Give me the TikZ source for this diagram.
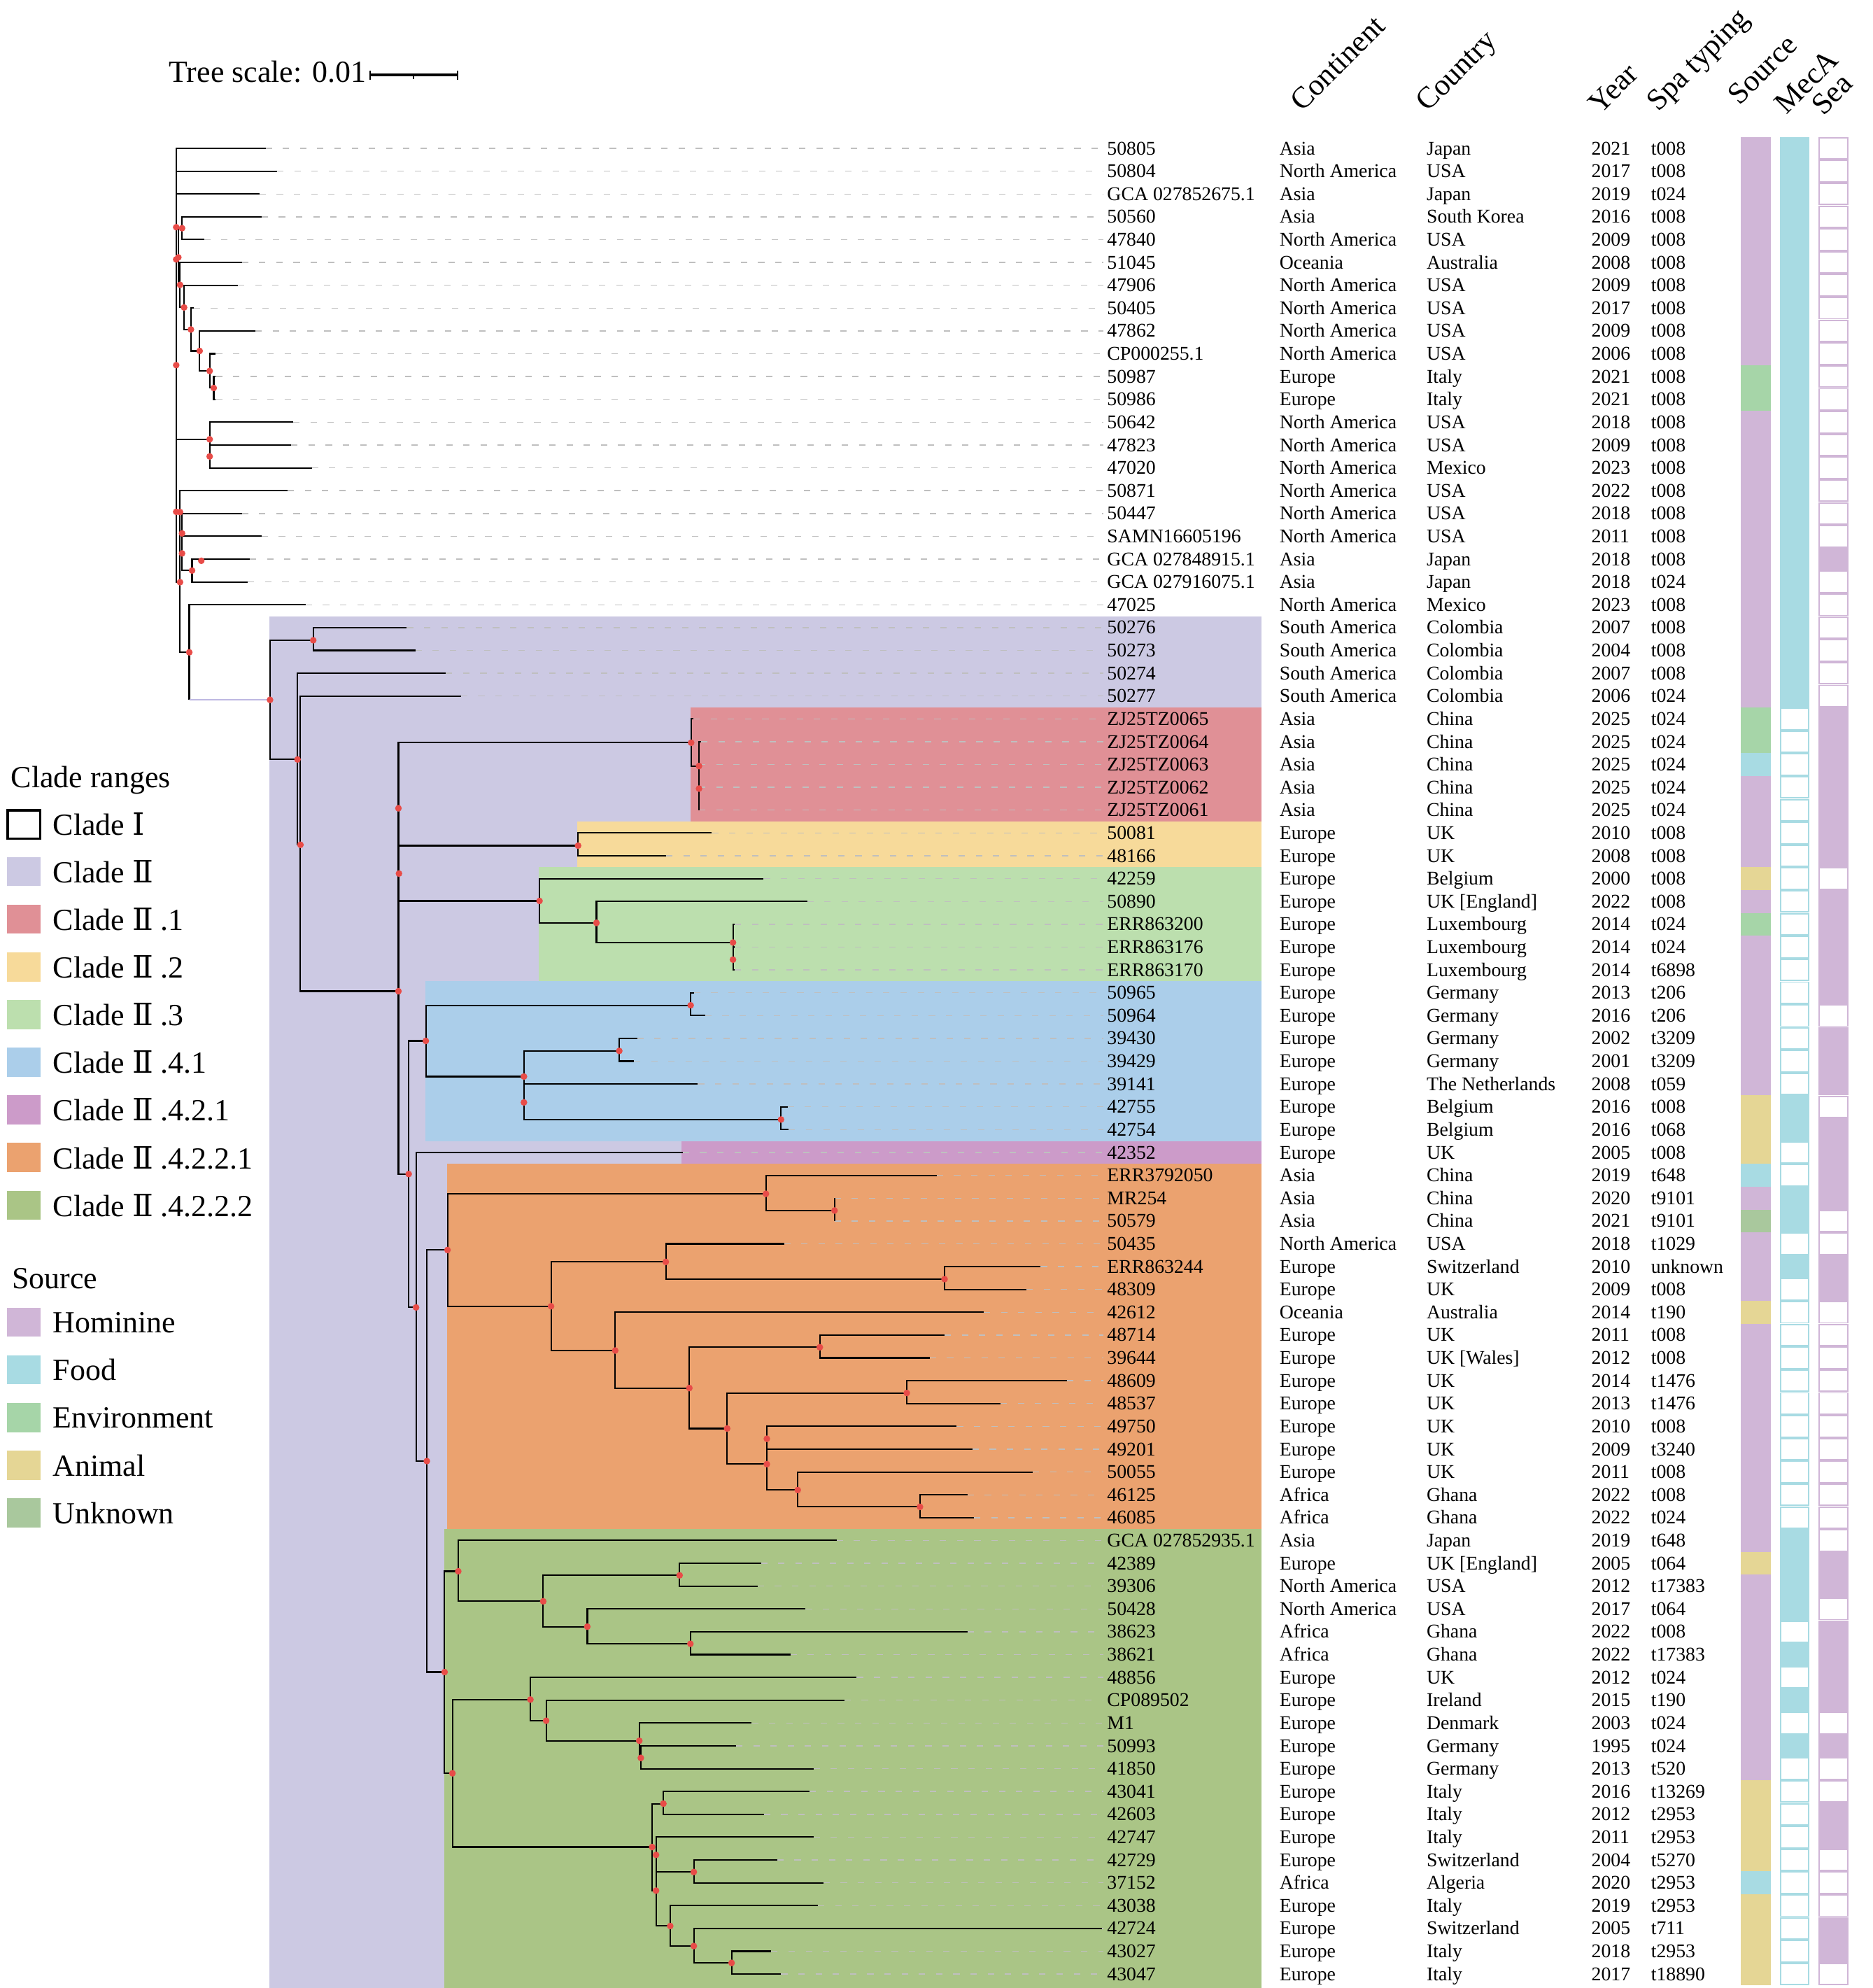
\documentclass[tikz,border=0pt]{standalone}
\usepackage{fontspec}
\setmainfont{Liberation Serif}
\newfontfamily\rnfont{DejaVu Serif}
\usetikzlibrary{calc}
\definecolor{cII}{RGB}{204,201,227}
\definecolor{cIIline}{RGB}{190,184,226}
\definecolor{cIIa}{RGB}{224,144,150}
\definecolor{cIIb}{RGB}{247,218,154}
\definecolor{cIIc}{RGB}{188,223,174}
\definecolor{cIIda}{RGB}{171,206,234}
\definecolor{cIIdba}{RGB}{204,155,201}
\definecolor{cIIdbba}{RGB}{235,162,111}
\definecolor{cIIdbbb}{RGB}{170,197,134}
\definecolor{cHom}{RGB}{208,182,215}
\definecolor{cFood}{RGB}{168,219,227}
\definecolor{cEnv}{RGB}{166,213,168}
\definecolor{cAni}{RGB}{229,214,149}
\definecolor{cUnk}{RGB}{169,200,157}
\definecolor{dotred}{RGB}{232,76,72}
\newcommand\RI{{\rnfont Ⅰ}}
\newcommand\RII{{\rnfont Ⅱ}}
\begin{document}
\begin{tikzpicture}[x=0.018125cm,y=-0.018125cm,
  br/.style={line width=0.6pt,draw=black},
  leader/.style={draw=black!25,line width=0.4pt,dash pattern=on 2.6pt off 4.4pt},
  lab/.style={anchor=base west,inner sep=0pt,font=\fontsize{7.9}{9.5}\selectfont},
  hdr/.style={anchor=base west,inner sep=0pt,rotate=45,font=\fontsize{12.3}{14}\selectfont},
  leg/.style={anchor=base west,inner sep=0pt,font=\fontsize{12.5}{15}\selectfont},
  dotc/.style={circle,fill=dotred,inner sep=0pt,minimum size=0.095cm}]
\useasboundingbox (0,0) rectangle (1477,1568);
% clade backgrounds
\fill[cII] (212.3,486) rectangle (995,1568);
\fill[cIIa] (544.8,558) rectangle (995,648);
\fill[cIIb] (455.1,648) rectangle (995,684);
\fill[cIIc] (425.2,684) rectangle (995,774);
\fill[cIIda] (335.4,774) rectangle (995,900);
\fill[cIIdba] (537.8,900) rectangle (995,918);
\fill[cIIdbba] (352.6,918) rectangle (995,1206);
\fill[cIIdbbb] (350.7,1206) rectangle (995,1568);
% leaves
\newcommand\leaf[7]{%
 \pgfmathsetmacro\ry{117+18*#1}%
 \coordinate (t#1) at (#2,\ry);
 \node[lab] (l#1) at (873,\ry+5) {#3};
 \node[lab] (c#1) at (1009,\ry+5) {#4};
 \node[lab] (k#1) at (1125,\ry+5) {#5};
 \node[lab] (y#1) at (1255,\ry+5) {#6};
 \node[lab] (s#1) at (1302,\ry+5) {#7};
 \draw[leader,shorten >=1.5pt] (t#1) -- (t#1 -| l#1.west);
}
\leaf{0}{209.5}{50805}{Asia}{Japan}{2021}{t008}
\leaf{1}{218.6}{50804}{North America}{USA}{2017}{t008}
\leaf{2}{204.7}{GCA 027852675.1}{Asia}{Japan}{2019}{t024}
\leaf{3}{206.3}{50560}{Asia}{South Korea}{2016}{t008}
\leaf{4}{161.0}{47840}{North America}{USA}{2009}{t008}
\leaf{5}{190.8}{51045}{Oceania}{Australia}{2008}{t008}
\leaf{6}{187.6}{47906}{North America}{USA}{2009}{t008}
\leaf{7}{152.8}{50405}{North America}{USA}{2017}{t008}
\leaf{8}{201.5}{47862}{North America}{USA}{2009}{t008}
\leaf{9}{170.2}{CP000255.1}{North America}{USA}{2006}{t008}
\leaf{10}{170.2}{50987}{Europe}{Italy}{2021}{t008}
\leaf{11}{170.2}{50986}{Europe}{Italy}{2021}{t008}
\leaf{12}{231.3}{50642}{North America}{USA}{2018}{t008}
\leaf{13}{229.7}{47823}{North America}{USA}{2009}{t008}
\leaf{14}{245.9}{47020}{North America}{Mexico}{2023}{t008}
\leaf{15}{226.9}{50871}{North America}{USA}{2022}{t008}
\leaf{16}{190.8}{50447}{North America}{USA}{2018}{t008}
\leaf{17}{206.3}{SAMN16605196}{North America}{USA}{2011}{t008}
\leaf{18}{197.1}{GCA 027848915.1}{Asia}{Japan}{2018}{t008}
\leaf{19}{195.5}{GCA 027916075.1}{Asia}{Japan}{2018}{t024}
\leaf{20}{241.1}{47025}{North America}{Mexico}{2023}{t008}
\leaf{21}{320.9}{50276}{South America}{Colombia}{2007}{t008}
\leaf{22}{327.6}{50273}{South America}{Colombia}{2004}{t008}
\leaf{23}{351.7}{50274}{South America}{Colombia}{2007}{t008}
\leaf{24}{363.6}{50277}{South America}{Colombia}{2006}{t024}
\leaf{25}{547}{ZJ25TZ0065}{Asia}{China}{2025}{t024}
\leaf{26}{553}{ZJ25TZ0064}{Asia}{China}{2025}{t024}
\leaf{27}{551.4}{ZJ25TZ0063}{Asia}{China}{2025}{t024}
\leaf{28}{551.4}{ZJ25TZ0062}{Asia}{China}{2025}{t024}
\leaf{29}{551.4}{ZJ25TZ0061}{Asia}{China}{2025}{t024}
\leaf{30}{561.5}{50081}{Europe}{UK}{2010}{t008}
\leaf{31}{525.4}{48166}{Europe}{UK}{2008}{t008}
\leaf{32}{602.4}{42259}{Europe}{Belgium}{2000}{t008}
\leaf{33}{636.7}{50890}{Europe}{UK [England]}{2022}{t008}
\leaf{34}{579.5}{ERR863200}{Europe}{Luxembourg}{2014}{t024}
\leaf{35}{579.5}{ERR863176}{Europe}{Luxembourg}{2014}{t024}
\leaf{36}{579.5}{ERR863170}{Europe}{Luxembourg}{2014}{t6898}
\leaf{37}{547.4}{50965}{Europe}{Germany}{2013}{t206}
\leaf{38}{556.2}{50964}{Europe}{Germany}{2016}{t206}
\leaf{39}{502.6}{39430}{Europe}{Germany}{2002}{t3209}
\leaf{40}{500}{39429}{Europe}{Germany}{2001}{t3209}
\leaf{41}{550.5}{39141}{Europe}{The Netherlands}{2008}{t059}
\leaf{42}{621.3}{42755}{Europe}{Belgium}{2016}{t008}
\leaf{43}{622.2}{42754}{Europe}{Belgium}{2016}{t068}
\leaf{44}{538.6}{42352}{Europe}{UK}{2005}{t008}
\leaf{45}{738.9}{ERR3792050}{Asia}{China}{2019}{t648}
\leaf{46}{658.3}{MR254}{Asia}{China}{2020}{t9101}
\leaf{47}{658.3}{50579}{Asia}{China}{2021}{t9101}
\leaf{48}{618.5}{50435}{North America}{USA}{2018}{t1029}
\leaf{49}{820.9}{ERR863244}{Europe}{Switzerland}{2010}{unknown}
\leaf{50}{809.7}{48309}{Europe}{UK}{2009}{t008}
\leaf{51}{776}{42612}{Oceania}{Australia}{2014}{t190}
\leaf{52}{745.1}{48714}{Europe}{UK}{2011}{t008}
\leaf{53}{733.4}{39644}{Europe}{UK [Wales]}{2012}{t008}
\leaf{54}{841.8}{48609}{Europe}{UK}{2014}{t1476}
\leaf{55}{789.2}{48537}{Europe}{UK}{2013}{t1476}
\leaf{56}{754.7}{49750}{Europe}{UK}{2010}{t008}
\leaf{57}{767.1}{49201}{Europe}{UK}{2009}{t3240}
\leaf{58}{814.7}{50055}{Europe}{UK}{2011}{t008}
\leaf{59}{763.2}{46125}{Africa}{Ghana}{2022}{t008}
\leaf{60}{768.3}{46085}{Africa}{Ghana}{2022}{t024}
\leaf{61}{659.9}{GCA 027852935.1}{Asia}{Japan}{2019}{t648}
\leaf{62}{600.3}{42389}{Europe}{UK [England]}{2005}{t064}
\leaf{63}{597.6}{39306}{North America}{USA}{2012}{t17383}
\leaf{64}{635.5}{50428}{North America}{USA}{2017}{t064}
\leaf{65}{763.2}{38623}{Africa}{Ghana}{2022}{t008}
\leaf{66}{623.5}{38621}{Africa}{Ghana}{2022}{t17383}
\leaf{67}{675.8}{48856}{Europe}{UK}{2012}{t024}
\leaf{68}{666.1}{CP089502}{Europe}{Ireland}{2015}{t190}
\leaf{69}{593}{M1}{Europe}{Denmark}{2003}{t024}
\leaf{70}{580.6}{50993}{Europe}{Germany}{1995}{t024}
\leaf{71}{641.7}{41850}{Europe}{Germany}{2013}{t520}
\leaf{72}{638.6}{43041}{Europe}{Italy}{2016}{t13269}
\leaf{73}{602.6}{42603}{Europe}{Italy}{2012}{t2953}
\leaf{74}{641.7}{42747}{Europe}{Italy}{2011}{t2953}
\leaf{75}{613.1}{42729}{Europe}{Switzerland}{2004}{t5270}
\leaf{76}{649.5}{37152}{Africa}{Algeria}{2020}{t2953}
\leaf{77}{645.2}{43038}{Europe}{Italy}{2019}{t2953}
\leaf{78}{869.3}{42724}{Europe}{Switzerland}{2005}{t711}
\leaf{79}{608.4}{43027}{Europe}{Italy}{2018}{t2953}
\leaf{80}{616.2}{43047}{Europe}{Italy}{2017}{t18890}
% internal nodes
\foreach \n/\x/\y in {R/139/288,xa/139/179.2,xb/139/204.6,xc/139/403.7,xd/158.8/442.3,
 nA/143.6/180,nE/140.7/203,nF/142/224.7,nG/145.2/242.5,nH/150.6/259.9,nI/157.5/276.8,
 nJ/165.4/292.6,nK/168.6/306,nM/165.4/346.5,nN/165.4/360,nU/142/459.2,nQ/142/403.9,
 nR/143.6/420.7,nS/143.6/436.5,nT/151.5/450,nV/149.3/514.5,C2/213/552,nW/247.1/505,
 nX/234.7/599,nY/237/666.3,nZ/314.3/781.8,n1/314.3/637.5,C21/545.2/585.8,nB1/551.4/604.2,
 nB2/551.4/622,n2/314.7/689,C22/456/667,C23/425.6/710.6,n3a/470.5/727.9,n3b/578.2/743.4,
 n3c/578.2/756.9,n4/322.4/926,C241/335.9/821,n41a/544.8/792.9,n41b/413.3/849.1,
 n41c/488.5/828.9,n41e/413.3/869.5,n41d/616.1/883,n5/328.2/1031.2,n6/336.7/1152.4,
 O/353/985.9,oA/604.2/941.6,oA2/658.3/954.8,oB/434.7/1030.3,oB1/525.2/995.3,
 oB1a/745.1/1008.9,oB2/485.3/1065.2,oB2b/543.8/1094.8,oC/646.7/1062.6,oD/573.6/1126.7,
 oE/715.3/1098.7,oF/604.9/1154.8,oG/604.9/1134.8,oH/629.3/1175.2,oI/725.7/1188.5,
 G/350.7/1318.8,g1/361.5/1239.3,g1b/428.5/1263,g1c/536.1/1242.5,g1d/463.3/1283,
 g1e/544.6/1296.5,g2/356.9/1398.6,g2a/418.4/1340.5,g2c/430.8/1357.2,g2d/504.3/1373,
 g2e/505.5/1386.5,g2b/514.4/1456.8,g2f/523.3/1422.6,g2g/517.5/1491.2,g2h/517.5/1463,
 g2j/547.3/1476.5,g2i/528.7/1519.1,g2k/547.3/1534.9,g2l/577.1/1548.2}
 {\coordinate (\n) at (\x,\y);}
% branches
\foreach \p/\c in {R/t0,R/t1,R/t2,R/nE,R/nM,R/nU,nE/nA,nE/nF,nA/t3,nA/t4,nF/t5,nF/nG,
 nG/t6,nG/nH,nH/t7,nH/nI,nI/t8,nI/nJ,nJ/t9,nJ/nK,nK/t10,nK/t11,nM/t12,nM/nN,nN/t13,nN/t14,
 nU/nQ,nU/nV,nQ/t15,nQ/nR,nR/t16,nR/nS,nS/t17,nS/nT,nT/t18,nT/t19,nV/t20,
 C2/nW,C2/nX,nW/t21,nW/t22,nX/t23,nX/nY,nY/t24,nY/nZ,nZ/n1,nZ/n4,n1/C21,n1/n2,
 C21/t25,C21/nB1,nB1/t26,nB1/nB2,nB2/t27,nB2/t28,nB2/t29,n2/C22,n2/C23,C22/t30,C22/t31,
 C23/t32,C23/n3a,n3a/t33,n3a/n3b,n3b/t34,n3b/n3c,n3c/t35,n3c/t36,n4/C241,n4/n5,
 C241/n41a,C241/n41b,n41a/t37,n41a/t38,n41b/n41c,n41b/n41e,n41c/t39,n41c/t40,
 n41e/t41,n41e/n41d,n41d/t42,n41d/t43,n5/t44,n5/n6,n6/O,n6/G,O/oA,O/oB,oA/t45,oA/oA2,
 oA2/t46,oA2/t47,oB/oB1,oB/oB2,oB1/t48,oB1/oB1a,oB1a/t49,oB1a/t50,oB2/t51,oB2/oB2b,
 oB2b/oC,oB2b/oD,oC/t52,oC/t53,oD/oE,oD/oF,oE/t54,oE/t55,oF/oG,oF/oH,oG/t56,oG/t57,
 oH/t58,oH/oI,oI/t59,oI/t60,G/g1,G/g2,g1/t61,g1/g1b,g1b/g1c,g1b/g1d,g1c/t62,g1c/t63,
 g1d/t64,g1d/g1e,g1e/t65,g1e/t66,g2/g2a,g2/g2b,g2a/t67,g2a/g2c,g2c/t68,g2c/g2d,
 g2d/t69,g2d/g2e,g2e/t70,g2e/t71,g2b/g2f,g2b/g2g,g2f/t72,g2f/t73,g2g/g2h,g2g/g2i,
 g2h/t74,g2h/g2j,g2j/t75,g2j/t76,g2i/t77,g2i/g2k,g2k/t78,g2k/g2l,g2l/t79,g2l/t80}
 {\draw[br] (\p) |- (\c);}
\draw[br] (nV) -- (nV |- C2);
\draw[line width=0.6pt,draw=cIIline] (nV |- C2) -- (C2);
% support dots
\foreach \n in {R,xa,xb,xc,xd,nA,nE,nF,nG,nH,nI,nJ,nK,nM,nN,nU,nQ,nR,nS,nT,nV,C2,nW,nX,nY,
 nZ,n1,C21,nB1,nB2,n2,C22,C23,n3a,n3b,n3c,n4,C241,n41a,n41b,n41c,n41e,n41d,n5,n6,O,oA,oA2,
 oB,oB1,oB1a,oB2,oB2b,oC,oD,oE,oF,oG,oH,oI,G,g1,g1b,g1c,g1d,g1e,g2,g2a,g2c,g2d,g2e,g2b,
 g2f,g2g,g2h,g2j,g2i,g2k,g2l}
 {\node[dotc] (dot\n) at (\n) {};}
% source column
\foreach \a/\b/\c in {0/9/cHom,10/11/cEnv,12/24/cHom,25/26/cEnv,27/27/cFood,28/31/cHom,
 32/32/cAni,33/33/cHom,34/34/cEnv,35/41/cHom,42/44/cAni,45/45/cFood,46/46/cHom,47/47/cUnk,
 48/50/cHom,51/51/cAni,52/61/cHom,62/62/cAni,63/71/cHom,72/75/cAni,76/76/cFood,77/80/cAni}
 {\fill[\c] (1373.4,{108+18*\a}) rectangle (1396.8,{126+18*\b});}
% MecA column
\foreach \a/\b in {0/24,42/43,46/47,49/49,61/64,66/66,68/68,70/70}
 {\fill[cFood] (1403.8,{108+18*\a}) rectangle (1427.5,{126+18*\b});}
\foreach \r in {25,26,27,28,29,30,31,32,33,34,35,36,37,38,39,40,41,44,45,48,50,51,52,53,
 54,55,56,57,58,59,60,65,67,69,71,72,73,74,75,76,77,78,79,80}
 {\filldraw[fill=white,draw=cFood,line width=0.55pt] (1404.4,{108.6+18*\r}) rectangle (1426.9,{125.4+18*\r});}
% Sea column
\foreach \a/\b in {18/18,25/31,33/37,39/41,43/46,49/50,62/63,65/68,70/70,73/74,78/79}
 {\fill[cHom] (1434.5,{108+18*\a}) rectangle (1458.4,{126+18*\b});}
\foreach \r in {0,1,2,3,4,5,6,7,8,9,10,11,12,13,14,15,16,17,19,20,21,22,23,24,32,38,42,
 47,48,51,52,53,54,55,56,57,58,59,60,61,64,69,71,72,75,76,77,80}
 {\filldraw[fill=white,draw=cHom,line width=0.55pt] (1435.1,{108.6+18*\r}) rectangle (1457.8,{125.4+18*\r});}
% headers
\node[hdr] (hCont) at (1027,89) {Continent};
\node[hdr] (hCountry) at (1126,89) {Country};
\node[hdr] (hYear) at (1262,91) {Year};
\node[hdr] (hSpa) at (1308,89) {Spa typing};
\node[hdr] (hSource) at (1372,84) {Source};
\node[hdr] (hMec) at (1409,91) {MecA};
\node[hdr] (hSea) at (1438,92) {Sea};
% tree scale
\node[leg] (tscale) at (133,65) {Tree scale: 0.01};
\coordinate (sbA) at (292,59);
\coordinate (sbB) at (360.8,59);
\coordinate (sbM) at (326.4,59);
\draw[line width=1pt] (sbA) -- (sbB);
\draw[line width=0.6pt] (sbA) ++(0,-3.5) -- ++(0,7.5);
\draw[line width=0.6pt] (sbB) ++(0,-3.5) -- ++(0,7.5);
\draw[line width=0.6pt] (sbM) -- ++(0,3.5);
% legend
\node[leg] (legT) at (8.3,621) {Clade ranges};
\draw[line width=1pt] (6,639) rectangle (31.8,661.5);
\node[leg] (leg0) at (41.4,658.5) {Clade \RI};
\foreach \k/\c/\t in {1/cII/{Clade \RII},2/cIIa/{Clade \RII\ .1},3/cIIb/{Clade \RII\ .2},
 4/cIIc/{Clade \RII\ .3},5/cIIda/{Clade \RII\ .4.1},6/cIIdba/{Clade \RII\ .4.2.1},
 7/cIIdbba/{Clade \RII\ .4.2.2.1},8/cIIdbbb/{Clade \RII\ .4.2.2.2}}
 {\fill[\c] (5.5,{638.3+37.6*\k}) rectangle (31.8,{661.3+37.6*\k});
  \node[leg] (leg\k) at (41.4,{658.5+37.6*\k}) {\t};}
\node[leg] (legS) at (9.2,1016.3) {Source};
\foreach \k/\c/\t in {0/cHom/Hominine,1/cFood/Food,2/cEnv/Environment,3/cAni/Animal,4/cUnk/Unknown}
 {\fill[\c] (5.5,{1031.5+37.6*\k}) rectangle (31.8,{1054.3+37.6*\k});
  \node[leg] (legs\k) at (41.4,{1051.2+37.6*\k}) {\t};}
\end{tikzpicture}
\end{document}
